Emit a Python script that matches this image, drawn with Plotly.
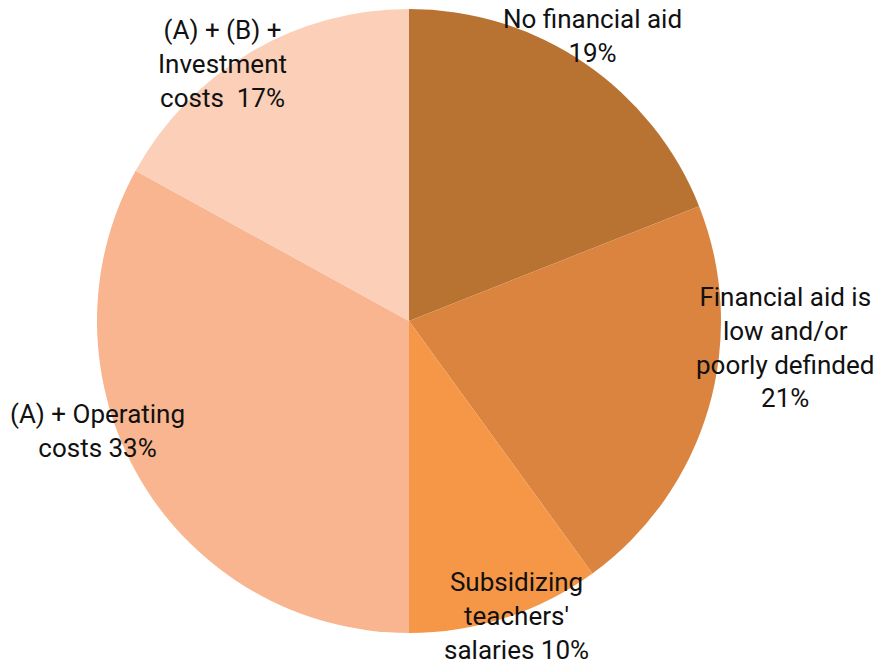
import plotly.graph_objects as go

# Shares of respondents by type of financial support (percent)
categories = [
    "No financial aid",
    "Financial aid is<br>low and/or<br>poorly definded",
    "Subsidizing<br>teachers'<br>salaries",
    "(A) + Operating<br>costs",
    "(A) + (B) +<br>Investment<br>costs ",
]
values = [19, 21, 10, 33, 17]
colors = ["#B87333", "#DA843F", "#F59747", "#F8B58F", "#FBCFB8"]

# Label text joins each category with its share
label_sep = ["<br>", "<br>", " ", " ", " "]
label_text = [f"{c}{s}{v}%" for c, s, v in zip(categories, label_sep, values)]

# Label anchor points in pixels (x, y from top) on the 882x666 canvas
W, H = 882, 666
label_pos = [(592, 36), (785, 347), (516, 616), (97, 431), (222, 64)]

fig = go.Figure(
    go.Pie(
        labels=categories,
        values=values,
        marker=dict(colors=colors, line=dict(width=0)),
        sort=False,
        direction="clockwise",
        rotation=0,
        textinfo="none",
        hoverinfo="label+percent",
        domain=dict(x=[97 / W, 721 / W], y=[1 - 633 / H, 1 - 9 / H]),
        showlegend=False,
    )
)

for txt, (px, py) in zip(label_text, label_pos):
    fig.add_annotation(
        text=txt,
        x=px / W,
        y=1 - py / H,
        xref="paper",
        yref="paper",
        xanchor="center",
        yanchor="middle",
        showarrow=False,
        align="center",
        font=dict(family="Roboto", size=26, color="#111111"),
    )

fig.update_layout(
    width=W,
    height=H,
    margin=dict(l=0, r=0, t=0, b=0),
    paper_bgcolor="white",
    plot_bgcolor="white",
)

fig.write_html("out.html")
